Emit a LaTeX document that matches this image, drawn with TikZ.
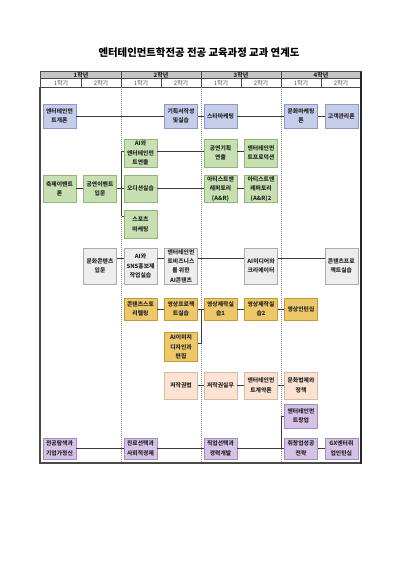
\documentclass[tikz,border=0pt]{standalone}
\usepackage{fontspec}
\setmainfont{Noto Sans CJK KR}
\usetikzlibrary{calc}
\definecolor{blueF}{HTML}{C6CDEB}\definecolor{blueD}{HTML}{8E98C4}
\definecolor{greenF}{HTML}{C6E0B2}\definecolor{greenD}{HTML}{93B57A}
\definecolor{grayF}{HTML}{EDEDED}\definecolor{grayD}{HTML}{ABABAB}
\definecolor{goldF}{HTML}{ECC86A}\definecolor{goldD}{HTML}{C29A3A}
\definecolor{peachF}{HTML}{FBE2D2}\definecolor{peachD}{HTML}{D9B9A5}
\definecolor{purpF}{HTML}{D5C2E6}\definecolor{purpD}{HTML}{A48CBE}
\definecolor{lineC}{HTML}{3C3C3C}
\definecolor{hdrF}{HTML}{C4C4C4}
\definecolor{frameC}{HTML}{4A4A4A}
\tikzset{
  box/.style={draw, line width=0.6pt, inner sep=0pt, minimum width=33pt, align=center,
    font=\fontsize{5.8}{9.5}\selectfont\bfseries, text=black!85},
  bl/.style={box, fill=blueF, draw=blueD},
  gr/.style={box, fill=greenF, draw=greenD},
  gy/.style={box, fill=grayF, draw=grayD},
  gd/.style={box, fill=goldF, draw=goldD},
  pc/.style={box, fill=peachF, draw=peachD},
  pp/.style={box, fill=purpF, draw=purpD},
  conn/.style={draw=lineC, line width=0.9pt},
  yearlbl/.style={inner sep=0pt, font=\fontsize{6}{7}\selectfont\bfseries, text=black!85},
  semlbl/.style={inner sep=0pt, font=\fontsize{6}{7}\selectfont, text=black!70},
  hdrline/.style={draw=frameC, line width=0.7pt},
  yeardiv/.style={draw=black!45, line width=0.5pt, dash pattern=on 1pt off 1pt}
}
\begin{document}
\begin{tikzpicture}[x=1pt,y=-1pt]
\useasboundingbox (0,0) rectangle (400,565);
\fill[white] (0,0) rectangle (400,565);

% title
\node[inner sep=0pt, font=\fontsize{10.4}{12}\selectfont\bfseries] (title) at (199,52.5) {엔터테인먼트학전공 전공 교육과정 교과 연계도};

% header
\fill[hdrF] (40,71.5) rectangle (361,78.7);
\draw[hdrline] (40,71.5) rectangle (361,87.3);
\draw[hdrline] (40,78.7) -- (361,78.7);
\foreach \x in {121,201,281} \draw[hdrline] (\x,71.5) -- (\x,87.3);
\foreach \x in {81,161,241,321} \draw[draw=frameC, line width=0.5pt] (\x,78.7) -- (\x,87.3);
\node[yearlbl] (y1) at (81,75.2) {1학년};
\node[yearlbl] (y2) at (161,75.2) {2학년};
\node[yearlbl] (y3) at (241,75.2) {3학년};
\node[yearlbl] (y4) at (321,75.2) {4학년};
\foreach \i/\x in {1/61,2/141,3/221,4/301} \node[semlbl] (s\i a) at (\x,83.1) {1학기};
\foreach \i/\x in {1/101,2/181,3/261,4/341} \node[semlbl] (s\i b) at (\x,83.1) {2학기};

% body frame
\foreach \x in {121,201,281} \draw[yeardiv] (\x,87.3) -- (\x,463);
\draw[draw=frameC, line width=1.8pt] (40,87.3) -- (40,463) -- (361,463);
\draw[draw=black!85, line width=1.2pt] (361,71.5) -- (361,463.9);

% R1 blue
\node[bl, minimum height=24] (a1) at (59.5,116) {엔터테인먼\\트개론};
\node[bl, minimum height=24] (a2) at (181,116) {기획서작성\\및실습};
\node[bl, minimum height=24] (a3) at (220.5,116) {스타마케팅};
\node[bl, minimum height=24] (a4) at (301,116) {문화마케팅\\론};
\node[bl, minimum height=24] (a5) at (341.3,116) {고객관리론};

% R2 green
\node[gr, minimum height=28] (b1) at (140.5,153) {AI와\\엔터테인먼\\트연출};
\node[gr, minimum height=28] (b2) at (220.5,153) {공연기획\\연출};
\node[gr, minimum height=28] (b3) at (261,153) {엔터테인먼\\트프로덕션};

% R3 green
\node[gr, minimum height=27.5] (c1) at (59.5,188.7) {축제이벤트\\론};
\node[gr, minimum height=27.5] (c2) at (100,188.7) {공연이벤트\\입문};
\node[gr, minimum height=27.5] (c3) at (140.5,188.7) {오디션실습};
\node[gr, minimum height=27.5] (c4) at (220.5,188.7) {아티스트앤\\레퍼토리\\(A\&R)};
\node[gr, minimum height=27.5] (c5) at (261,188.7) {아티스트앤\\레퍼토리\\(A\&R)2};

% R4 green
\node[gr, minimum height=27.5] (d1) at (140.5,224.3) {스포츠\\마케팅};

% R5 gray
\node[gy, minimum height=36.3] (e1) at (100,266) {문화콘텐츠\\입문};
\node[gy, minimum height=36.3] (e2) at (140.5,266) {AI와\\SNS홍보제\\작업실습};
\node[gy, minimum height=36.3, font=\fontsize{5.8}{9.2}\selectfont\bfseries] (e3) at (181,266) {엔터테인먼\\트비즈니스\\를 위한\\AI콘텐츠};
\node[gy, minimum height=36.3] (e4) at (261,266) {AI미디어와\\크리에이터};
\node[gy, minimum height=36.3] (e5) at (341.3,266) {콘텐츠프로\\젝트실습};

% R6 gold
\node[gd, minimum height=22.3] (f1) at (140.5,309) {콘텐츠스토\\리텔링};
\node[gd, minimum height=22.3] (f2) at (181,309) {영상프로젝\\트실습};
\node[gd, minimum height=22.3] (f3) at (220.5,309) {영상제작실\\습1};
\node[gd, minimum height=22.3] (f4) at (261,309) {영상제작실\\습2};
\node[gd, minimum height=22.3] (f5) at (301,309) {영상인턴십};

% R7 gold
\node[gd, minimum height=29] (g1) at (181,347) {AI이미지\\디자인과\\편집};

% R8 peach
\node[pc, minimum height=27] (h1) at (181,385.5) {저작권법};
\node[pc, minimum height=27] (h2) at (220.5,385.5) {저작권실무};
\node[pc, minimum height=27] (h3) at (261,385.5) {엔터테인먼\\트계약론};
\node[pc, minimum height=27] (h4) at (301,385.5) {문화법제와\\정책};

% R9 purple
\node[pp, minimum height=23.7] (i1) at (301,416) {엔터테인먼\\트창업};

% R10 purple
\node[pp, minimum height=21] (j1) at (59.5,448.5) {전공탐색과\\기업가정신};
\node[pp, minimum height=21] (j2) at (140.5,448.5) {진로선택과\\사회적경제};
\node[pp, minimum height=21] (j3) at (220.5,448.5) {직업선택과\\경력개발};
\node[pp, minimum height=21] (j4) at (301,448.5) {취창업성공\\전략};
\node[pp, minimum height=21] (j5) at (341.3,448.5) {GX엔터취\\업인턴십};

% connectors
\draw[conn] (a1) -- (a2);
\draw[conn] (a2) -- (a3);
\draw[conn] (a3) -- (a4);
\draw[conn] (a4) -- (a5);

\coordinate (busAt) at (121.5,151);
\coordinate (busAb) at (121.5,216);
\draw[conn] (busAt) -- (busAb);
\draw[conn] (busAt) -- (b1.west |- busAt);
\draw[conn] (busAb) -- (d1.west |- busAb);
\draw[conn] ([yshift=2pt]b1.east) -- ([yshift=2pt]b2.west);
\draw[conn] ([yshift=2pt]b2.east) -- ([yshift=2pt]b3.west);

\draw[conn] (c1) -- (c2);
\draw[conn] (c2) -- (c3);
\draw[conn] (c3) -- (c4);
\draw[conn] (c4) -- (c5);

\draw[conn] ([yshift=8pt]e1.east) -- ([yshift=8pt]e2.west);
\draw[conn] ([yshift=8pt]e2.east) -- ([yshift=8pt]e3.west);
\draw[conn] ([yshift=8pt]e3.east) -- ([yshift=8pt]e4.west);
\draw[conn] ([yshift=8pt]e4.east) -- ([yshift=8pt]e5.west);

\draw[conn] (f1) -- (f2);
\draw[conn] (f2) -- (f3);
\draw[conn] (f3) -- (f4);
\draw[conn] (f4) -- (f5);
\coordinate (busB) at (201,343);
\draw[conn] ([yshift=4pt]g1.east) -- (busB) -- (busB |- f2.east);

\draw[conn] (h1) -- (h2);
\draw[conn] (h2) -- (h3);
\draw[conn] (h3) -- (h4);

\draw[conn] (j1) -- (j2);
\draw[conn] (j2) -- (j3);
\draw[conn] (j3) -- (j4);
\draw[conn] (j4) -- (j5);
\coordinate (busC) at (281.5,416);
\draw[conn] (i1.west) -- (busC) -- (busC |- j3.east);
\end{tikzpicture}
\end{document}
